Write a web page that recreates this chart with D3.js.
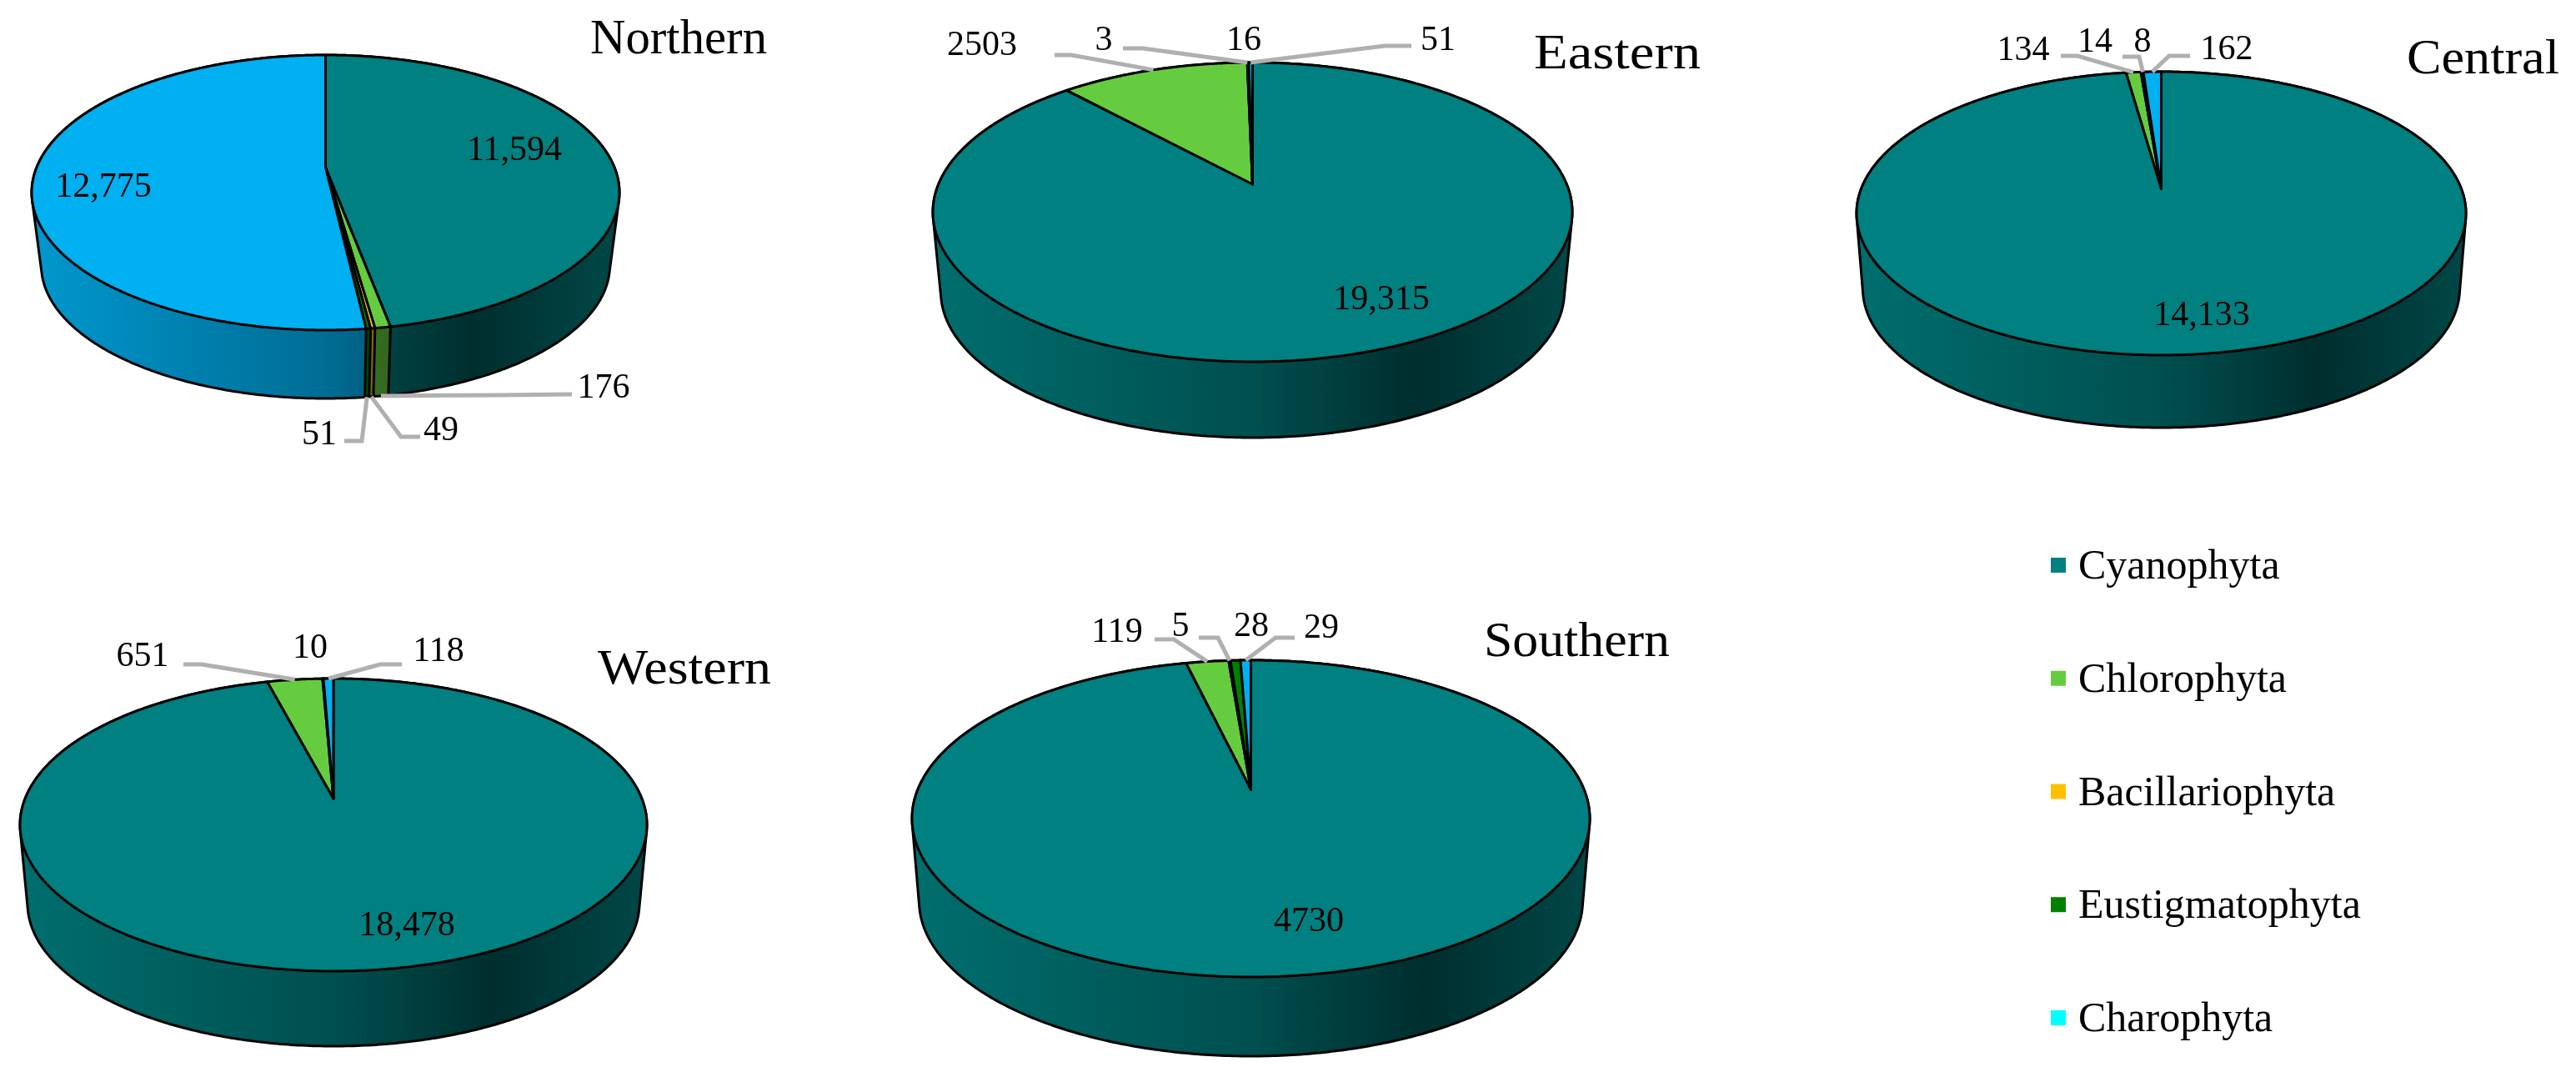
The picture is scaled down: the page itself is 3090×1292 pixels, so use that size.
<!DOCTYPE html>
<html>
<head>
<meta charset="utf-8">
<style>
  html, body { margin: 0; padding: 0; background: #fff; }
  text { font-family: "Liberation Serif", serif; fill: #000; }
  svg { filter: blur(0.6px); }
</style>
<script src="https://cdn.jsdelivr.net/npm/d3@7"></script>
</head>
<body>
<script>
const categories = ["Cyanophyta", "Chlorophyta", "Bacillariophyta", "Eustigmatophyta", "Charophyta"];
const regions = ["Northern", "Eastern", "Central", "Western", "Southern"];

const northernValues = [11594, 176, 49, 51, 12775];
const easternValues = [19315, 2503, 3, 16, 51];
const centralValues = [14133, 134, 14, 8, 162];
const westernValues = [18478, 651, 0, 10, 118];
const southernValues = [4730, 119, 5, 28, 29];

const sliceColors = ["#008080", "#66cc3f", "#ffc000", "#008000", "#00b0f0"];
const legendColors = ["#008080", "#66cc3f", "#ffc000", "#008000", "#00ffff"];

const valuesByRegion = {
  Northern: northernValues,
  Eastern: easternValues,
  Central: centralValues,
  Western: westernValues,
  Southern: southernValues,
};

// where each pie sits on the page: rim ellipse, apex and bottom of the wall
const pieBoxes = {
  Northern: { cx: 390.5, rx: 352.5, top: 66, apex: 201, bot: 396, wallRx: 341, wallBot: 478 },
  Eastern: { cx: 1502.5, rx: 383.5, top: 75, apex: 221, bot: 434, wallRx: 374, wallBot: 525 },
  Central: { cx: 2592.5, rx: 365.5, top: 86, apex: 226, bot: 426, wallRx: 358, wallBot: 513 },
  Western: { cx: 400, rx: 376, top: 814, apex: 958, bot: 1165, wallRx: 367, wallBot: 1255 },
  Southern: { cx: 1500.5, rx: 406.5, top: 792, apex: 947, bot: 1172, wallRx: 398, wallBot: 1267 },
};

// x, baseline, width on the page
const titlePlaces = {
  Northern: [708, 64, 212],
  Eastern: [1840, 82, 200],
  Central: [2887, 88, 183],
  Western: [717, 820, 208],
  Southern: [1780, 787, 223],
};

// label place per category, with the leader's start and elbow when it has one
const labelPlaces = {
  Northern: [
    { x: 617, y: 178 },
    { x: 724, y: 463, leader: [[686, 473], [600, 474]], onBase: true },
    { x: 529, y: 514, leader: [[504, 524], [481, 524]], onBase: true },
    { x: 383, y: 519, leader: [[413, 529], [434, 529]], onBase: true },
    { x: 124, y: 222 },
  ],
  Eastern: [
    { x: 1657, y: 357 },
    { x: 1178, y: 52, leader: [[1265, 66], [1285, 66]] },
    { x: 1324, y: 46, leader: [[1347, 58], [1371, 58]] },
    { x: 1492, y: 46 },
    { x: 1725, y: 46, leader: [[1693, 55], [1661, 55]] },
  ],
  Central: [
    { x: 2641, y: 376 },
    { x: 2427, y: 58, leader: [[2472, 67], [2492, 67]] },
    { x: 2513, y: 48 },
    { x: 2570, y: 48, leader: [[2546, 68], [2566, 68]] },
    { x: 2671, y: 57, leader: [[2627, 67], [2602, 67]] },
  ],
  Western: [
    { x: 488, y: 1108 },
    { x: 171, y: 785, leader: [[220, 797], [242, 797]] },
    null,
    { x: 372, y: 775 },
    { x: 526, y: 779, leader: [[482, 797], [456, 797]] },
  ],
  Southern: [
    { x: 1570, y: 1103 },
    { x: 1340, y: 756, leader: [[1385, 767], [1408, 767]] },
    { x: 1416, y: 749, leader: [[1438, 765], [1461, 765]] },
    { x: 1501, y: 749 },
    { x: 1585, y: 751, leader: [[1553, 765], [1530, 765]] },
  ],
};

const svg = d3.select("body").append("svg")
  .attr("width", 3090)
  .attr("height", 1292)
  .style("display", "block");

const defs = svg.append("defs");
const pieLayout = d3.pie().sort(null);
const lineGen = d3.line();
const formatValue = (v) => (v >= 10000 ? d3.format(",")(v) : String(v));

// wall shading, left to right
const shade = d3.scaleLinear()
  .domain([0, 0.5, 0.76, 1])
  .range([0.85, 0.62, 0.36, 0.55]);

function makeProjection(box) {
  const above = box.apex - box.top;
  const below = box.bot - box.apex;
  const p = (below - above) / (below + above);
  const b = above * (1 + p);
  const a = box.rx * Math.sqrt(1 - p * p);
  const s = box.wallRx / box.rx;
  const baseApex = box.wallBot - s * b / (1 - p);
  const rim = (t) => {
    const u = Math.sin(t), v = -Math.cos(t), k = 1 / (1 - p * v);
    return [box.cx + a * u * k, box.apex + b * v * k];
  };
  const base = (t) => {
    const u = Math.sin(t), v = -Math.cos(t), k = 1 / (1 - p * v);
    return [box.cx + s * a * u * k, baseApex + s * b * v * k];
  };
  return { rim, base };
}

function sampleAngles(start, end) {
  const n = Math.max(2, Math.ceil((end - start) / 0.01));
  return d3.range(n + 1).map((i) => start + (end - start) * i / n);
}

function wallGradient(region, color, box, i) {
  const id = `wall-${region}-${i}`;
  const grad = defs.append("linearGradient")
    .attr("id", id)
    .attr("gradientUnits", "userSpaceOnUse")
    .attr("x1", box.cx - box.wallRx)
    .attr("x2", box.cx + box.wallRx)
    .attr("y1", 0)
    .attr("y2", 0);
  const base = d3.rgb(color);
  shade.domain().forEach((offset) => {
    const k = shade(offset);
    grad.append("stop")
      .attr("offset", offset)
      .attr("stop-color", d3.rgb(base.r * k, base.g * k, base.b * k).formatHex());
  });
  return `url(#${id})`;
}

function drawPie(region) {
  const values = valuesByRegion[region];
  const box = pieBoxes[region];
  const { rim, base } = makeProjection(box);
  const arcs = pieLayout(values)
    .map((d, i) => ({ ...d, i }))
    .filter((d) => d.value > 0);
  const g = svg.append("g").attr("class", `pie-${region}`);

  // walls: one small quad per step so the side silhouette fills in
  arcs.forEach((d) => {
    const angles = sampleAngles(d.startAngle, d.endAngle);
    const fill = wallGradient(region, sliceColors[d.i], box, d.i);
    const quads = d3.pairs(angles).map(([t0, t1]) => {
      const quad = [rim(t0), rim(t1), base(t1), base(t0)];
      if (d3.polygonArea(quad) < 0) quad.reverse();
      return lineGen(quad) + "Z";
    });
    g.append("path")
      .attr("d", quads.join(""))
      .attr("fill", fill)
      .attr("stroke", fill)
      .attr("stroke-width", 0.6);
  });

  // outer outline of the whole drum
  const all = sampleAngles(0, 2 * Math.PI);
  const hull = d3.polygonHull(all.map(rim).concat(all.map(base)));
  g.append("path")
    .attr("d", lineGen(hull) + "Z")
    .attr("fill", "none")
    .attr("stroke", "#000")
    .attr("stroke-width", 3);

  // wall edges between slices
  arcs.forEach((d) => {
    g.append("path")
      .attr("d", lineGen([rim(d.endAngle), base(d.endAngle)]))
      .attr("stroke", "#000")
      .attr("stroke-width", 3)
      .attr("fill", "none");
  });

  // top face
  g.selectAll("path.slice")
    .data(arcs)
    .enter().append("path")
    .attr("class", "slice")
    .attr("d", (d) => {
      const pts = sampleAngles(d.startAngle, d.endAngle).map(rim);
      return lineGen([[box.cx, box.apex], ...pts]) + "Z";
    })
    .attr("fill", (d) => sliceColors[d.i])
    .attr("stroke", "#000")
    .attr("stroke-width", 3)
    .attr("stroke-linejoin", "round");

  // leaders and value labels
  arcs.forEach((d) => {
    const place = labelPlaces[region][d.i];
    if (!place) return;
    if (place.leader) {
      const mid = (d.startAngle + d.endAngle) / 2;
      const end = place.onBase ? base(mid) : rim(mid);
      svg.append("path")
        .attr("d", lineGen([...place.leader, end]))
        .attr("fill", "none")
        .attr("stroke", "#b0b0b0")
        .attr("stroke-width", 5);
    }
    svg.append("text")
      .attr("x", place.x)
      .attr("y", place.y)
      .attr("dy", "0.34em")
      .attr("text-anchor", "middle")
      .attr("font-size", 42)
      .text(formatValue(d.value));
  });

  const [tx, ty, tw] = titlePlaces[region];
  svg.append("text")
    .attr("x", tx)
    .attr("y", ty)
    .attr("font-size", 60)
    .attr("textLength", tw)
    .attr("lengthAdjust", "spacingAndGlyphs")
    .text(region);
}

regions.forEach(drawPie);

const legendY = d3.scalePoint()
  .domain(categories)
  .range([678, 1221]);

const legend = svg.append("g").attr("class", "legend")
  .selectAll("g")
  .data(categories)
  .enter().append("g")
  .attr("transform", (d) => `translate(2460,${legendY(d)})`);

legend.append("rect")
  .attr("x", 0)
  .attr("y", -9)
  .attr("width", 18)
  .attr("height", 18)
  .attr("fill", (d, i) => legendColors[i]);

legend.append("text")
  .attr("x", 33)
  .attr("dy", "0.32em")
  .attr("font-size", 50)
  .text((d) => d);
</script>
</body>
</html>
